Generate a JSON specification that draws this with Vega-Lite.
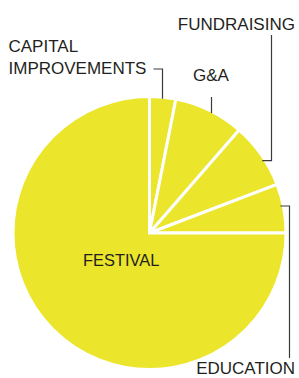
{
  "$schema": "https://vega.github.io/schema/vega-lite/v6.json",
  "width": 299,
  "height": 290,
  "autosize": {"type": "none"},
  "padding": {"top": 88, "left": 0, "right": 0, "bottom": 0},
  "background": "white",
  "config": {"view": {"stroke": null}, "text": {"font": "Liberation Sans"}},
  "datasets": {
    "slices": [
      {"category": "CAPITAL IMPROVEMENTS", "share": 3.1, "order": 1},
      {"category": "G&A", "share": 8.3, "order": 2},
      {"category": "FUNDRAISING", "share": 7.8, "order": 3},
      {"category": "EDUCATION", "share": 5.8, "order": 4},
      {"category": "FESTIVAL", "share": 75.0, "order": 5}
    ],
    "leaders": [
      {"label": "CAPITAL IMPROVEMENTS", "seq": 1, "lx": 0.03, "ly": 1.2148},
      {"label": "CAPITAL IMPROVEMENTS", "seq": 2, "lx": 0.0963, "ly": 1.2148},
      {"label": "CAPITAL IMPROVEMENTS", "seq": 3, "lx": 0.0963, "ly": 0.995},
      {"label": "G&A", "seq": 1, "lx": 0.4593, "ly": 1.0074},
      {"label": "G&A", "seq": 2, "lx": 0.4593, "ly": 0.888},
      {"label": "FUNDRAISING", "seq": 1, "lx": 0.9037, "ly": 1.4667},
      {"label": "FUNDRAISING", "seq": 2, "lx": 0.9037, "ly": 0.5356},
      {"label": "FUNDRAISING", "seq": 3, "lx": 0.835, "ly": 0.5356},
      {"label": "EDUCATION", "seq": 1, "lx": 0.97, "ly": 0.2},
      {"label": "EDUCATION", "seq": 2, "lx": 1.037, "ly": 0.2},
      {"label": "EDUCATION", "seq": 3, "lx": 1.037, "ly": -0.9259}
    ],
    "labels": [
      {"text": "CAPITAL", "lx": -1.0444, "ly": 1.3385},
      {"text": "IMPROVEMENTS", "lx": -1.0444, "ly": 1.1778},
      {"text": "G&A", "lx": 0.3215, "ly": 1.1281},
      {"text": "FUNDRAISING", "lx": 0.2096, "ly": 1.5037},
      {"text": "EDUCATION", "lx": 0.3459, "ly": -1.0444}
    ]
  },
  "layer": [
    {
      "data": {"name": "slices"},
      "mark": {"type": "arc", "radius": 136.5, "color": "#ebe52b", "stroke": "white", "strokeWidth": 3},
      "encoding": {
        "theta": {"field": "share", "type": "quantitative", "stack": true},
        "order": {"field": "order", "type": "quantitative"}
      }
    },
    {
      "data": {"name": "slices"},
      "mark": {"type": "text", "radius": 40, "fontSize": 16.4, "color": "#231f20"},
      "encoding": {
        "theta": {"field": "share", "type": "quantitative", "stack": true},
        "order": {"field": "order", "type": "quantitative"},
        "text": {"condition": {"test": "datum.category === 'FESTIVAL'", "field": "category"}, "value": ""}
      }
    },
    {
      "data": {"name": "leaders"},
      "mark": {"type": "line", "color": "#3a3a3a", "strokeWidth": 1.2},
      "encoding": {
        "x": {"field": "lx", "type": "quantitative", "axis": null, "scale": {"domain": [-1.10741, 1.10741], "zero": false, "nice": false}},
        "y": {"field": "ly", "type": "quantitative", "axis": null, "scale": {"domain": [-1.07407, 1.07407], "zero": false, "nice": false}},
        "detail": {"field": "label", "type": "nominal"},
        "order": {"field": "seq", "type": "quantitative"}
      }
    },
    {
      "data": {"name": "labels"},
      "mark": {"type": "text", "align": "left", "baseline": "alphabetic", "fontSize": 17, "color": "#231f20"},
      "encoding": {
        "x": {"field": "lx", "type": "quantitative", "axis": null},
        "y": {"field": "ly", "type": "quantitative", "axis": null},
        "text": {"field": "text", "type": "nominal"}
      }
    }
  ]
}
